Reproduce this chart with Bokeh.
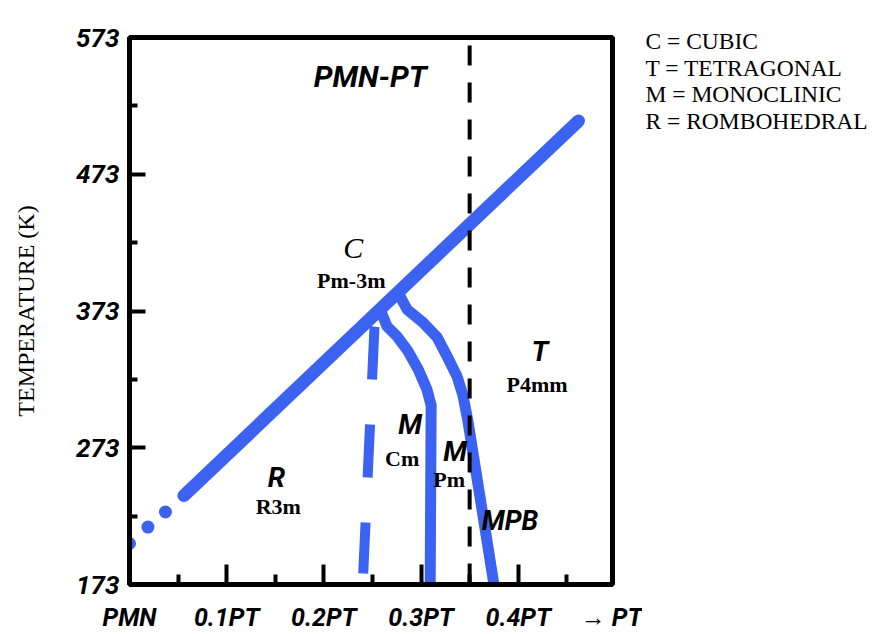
from bokeh.plotting import figure
from bokeh.models import Range1d, FixedTicker, Label, Span, ColumnDataSource
from bokeh.layouts import row
from bokeh.embed import file_html
from bokeh.resources import INLINE
from bokeh.core.properties import value

BLUE = "#3b62f0"
SANS = "Roboto"
SERIF = "Liberation Serif"

# Composition axis (fraction of PbTiO3); the last tick sits on the right edge
x_ticks = [0.0, 0.1, 0.2, 0.3, 0.4, 0.497]
x_tick_labels = ["PMN", "0.1PT", "0.2PT", "0.3PT", "0.4PT", "\u2192 PT"]
x_minor = [0.05, 0.15, 0.25, 0.35, 0.45]

# Temperature axis (K)
y_ticks = [173, 273, 373, 473, 573]
y_minor = [223, 323, 423, 523]

# Curie line: cubic / ferroelectric boundary
tc_x = [0.056, 0.462]
tc_y = [238, 512]
tc_dot_x = [0.0, 0.019, 0.037]
tc_dot_y = [203, 215, 226]

# R / M_C boundary (dashed)
rm_x = [0.254, 0.252, 0.2405]
rm_y = [371, 360, 181]

# M_C / M_A boundary
mc_x = [0.258, 0.265, 0.2754, 0.2867, 0.297, 0.306, 0.3104, 0.3094]
mc_y = [374, 361.7, 354.4, 343.5, 330.4, 315.8, 304, 173]

# M_A / T boundary (MPB)
mpb_x = [0.276, 0.2857, 0.302, 0.3166, 0.3268, 0.337, 0.3433, 0.3484, 0.375]
mpb_y = [387, 374.1, 364.6, 353.7, 339.8, 325.3, 310.7, 291.8, 173]

# Composition of the dashed reference line
ref_x = 0.35

# Phase key
key = ["C = CUBIC", "T = TETRAGONAL", "M = MONOCLINIC", "R = ROMBOHEDRAL"]

p = figure(width=642, height=634, output_backend="svg", toolbar_location=None,
           x_range=Range1d(0.0, 0.497), y_range=Range1d(173, 573),
           min_border_left=129, min_border_right=30, min_border_top=37,
           min_border_bottom=48)
p.background_fill_color = "white"
p.border_fill_color = "white"
p.outline_line_color = "black"
p.outline_line_width = 5
p.xgrid.visible = False
p.ygrid.visible = False

xa = p.xaxis[0]
xa.ticker = FixedTicker(ticks=x_ticks, minor_ticks=x_minor)
xa.major_label_overrides = {t: s for t, s in zip(x_ticks, x_tick_labels)}
ya = p.yaxis[0]
ya.ticker = FixedTicker(ticks=y_ticks, minor_ticks=y_minor)

for ax in (xa, ya):
    ax.axis_line_color = "black"
    ax.axis_line_width = 5
    ax.major_tick_line_color = "black"
    ax.major_tick_line_width = 4
    ax.minor_tick_line_color = "black"
    ax.minor_tick_line_width = 4
    ax.major_tick_out = 0
    ax.minor_tick_out = 0
    ax.major_label_text_font = SANS
    ax.major_label_text_font_style = "bold italic"
    ax.major_label_text_color = "black"

xa.major_tick_in = 20
xa.minor_tick_in = 10
xa.major_label_text_font_size = "25px"
xa.major_label_standoff = 18

ya.major_tick_in = 16
ya.minor_tick_in = 8
ya.major_label_text_font_size = "26px"
ya.major_label_standoff = 10
ya.axis_label = "TEMPERATURE (K)"
ya.axis_label_text_font = SERIF
ya.axis_label_text_font_style = "normal"
ya.axis_label_text_font_size = "24px"
ya.axis_label_text_color = "black"
ya.axis_label_standoff = 34

# phase boundaries
p.line(tc_x, tc_y, line_color=BLUE, line_width=13, line_cap="round")
p.scatter(tc_dot_x, tc_dot_y, size=13, fill_color=BLUE, line_color=None)
p.line(rm_x, rm_y, line_color=BLUE, line_width=10, line_dash="53 45",
       line_dash_offset=-13)
p.line(mc_x, mc_y, line_color=BLUE, line_width=11, line_join="round")
p.line(mpb_x, mpb_y, line_color=BLUE, line_width=11, line_join="round")

# dashed composition marker
p.add_layout(Span(location=ref_x, dimension="height", line_color="black",
                  line_width=4, line_dash="20 17", line_dash_offset=29))


def lab(x, y, text, font, size, style):
    p.add_layout(Label(x=x, y=y, text=text, text_font=font,
                       text_font_size=size, text_font_style=style,
                       text_color="black", text_align="center",
                       text_baseline="middle"))


lab(0.2477, 544.6, "PMN-PT", SANS, "30px", "bold italic")
lab(0.2302, 419.3, "C", SERIF, "30px", "italic")
lab(0.2282, 395.2, "Pm-3m", SERIF, "22px", "bold")
lab(0.1511, 251, "R", SANS, "28px", "bold italic")
lab(0.1531, 229.8, "R3m", SERIF, "22px", "bold")
lab(0.2888, 290.3, "M", SANS, "28px", "bold italic")
lab(0.2806, 264.8, "Cm", SERIF, "22px", "bold")
lab(0.335, 269.9, "M", SANS, "28px", "bold italic")
lab(0.3289, 250, "Pm", SERIF, "22px", "bold")
lab(0.4224, 343.5, "T", SANS, "28px", "bold italic")
lab(0.4193, 319.4, "P4mm", SERIF, "22px", "bold")
lab(0.3916, 219.6, "MPB", SANS, "27px", "bold italic")

# key panel to the right of the diagram (pixel-like coordinates, y downwards)
k = figure(width=230, height=634, output_backend="svg", toolbar_location=None,
           x_range=Range1d(642, 872), y_range=Range1d(634, 0),
           min_border=0)
k.frame_align = False
k.axis.visible = False
k.grid.visible = False
k.outline_line_color = None
k.background_fill_color = "white"
k.border_fill_color = "white"
key_src = ColumnDataSource(dict(x=[645] * len(key), y=[40, 67, 93, 120], t=key))
k.text(x="x", y="y", text="t", source=key_src, text_font=value(SERIF),
       text_font_size="23.5px", text_color="black", text_align="left",
       text_baseline="middle")

layout = row(p, k, spacing=0)
open("out.html", "w").write(file_html(layout, INLINE))
